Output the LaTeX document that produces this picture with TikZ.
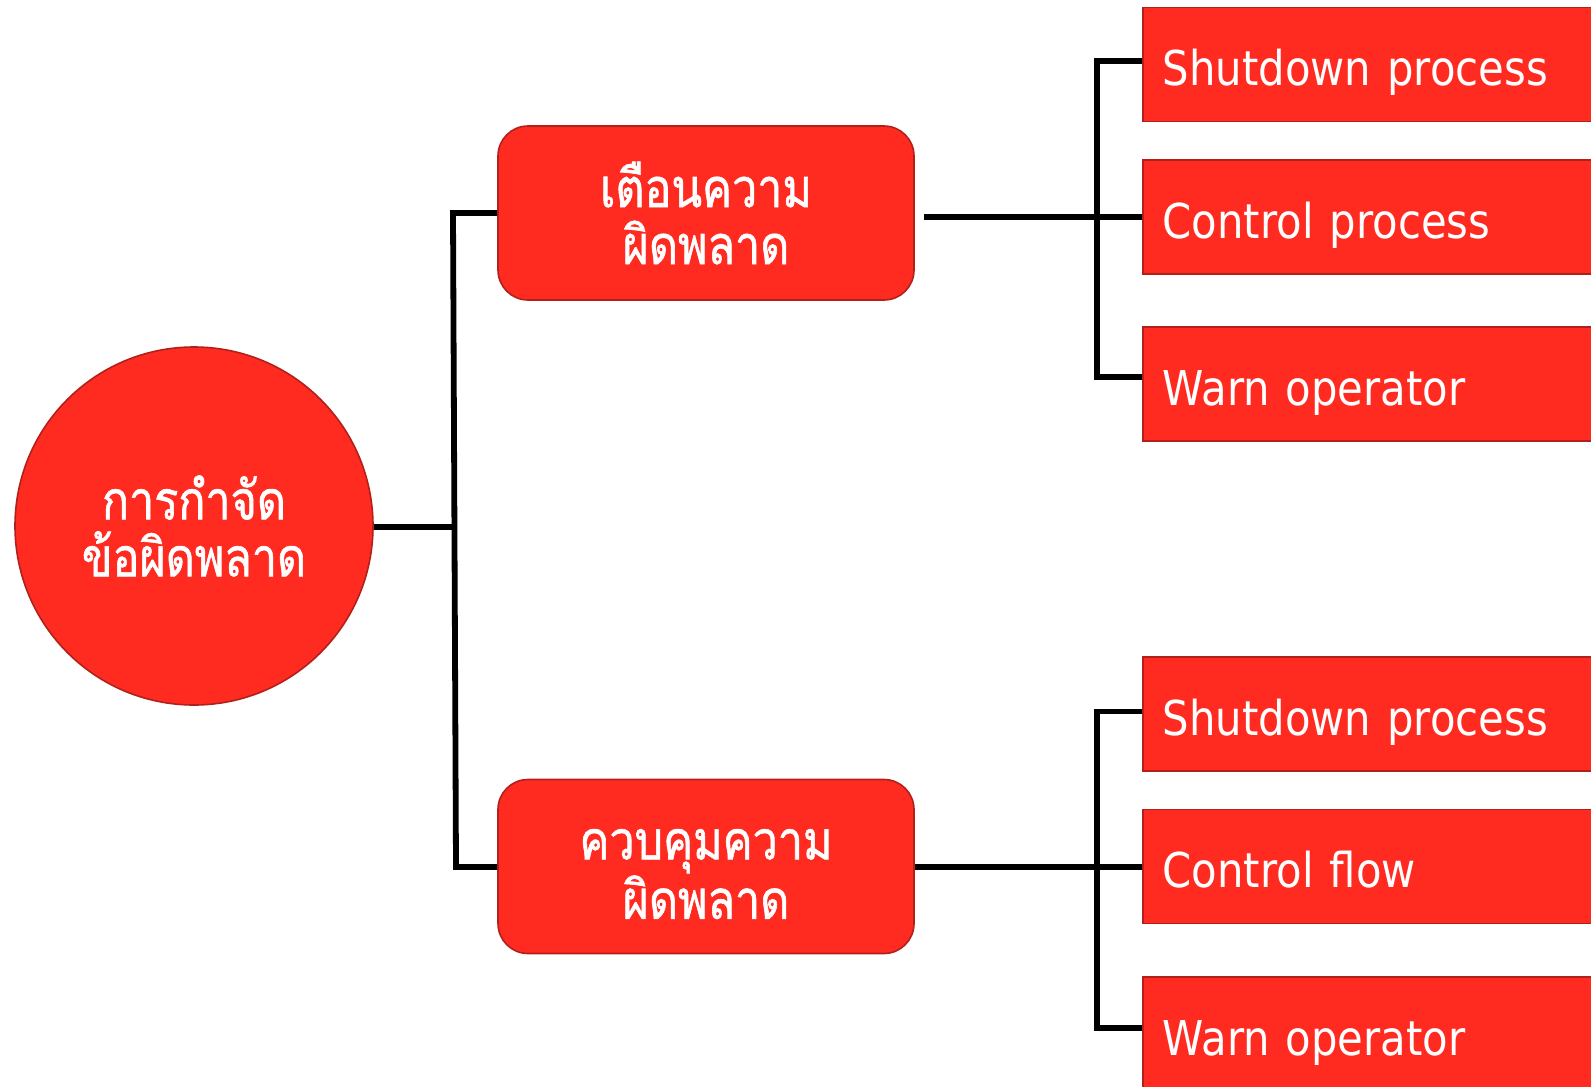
\documentclass[tikz,border=0pt]{standalone}
\usepackage{fontspec}
\setmainfont{DejaVu Sans}[FakeStretch=0.87]
\newfontfamily\thaifont[Script=Thai, FakeStretch=0.83, FakeBold=1.1]{Loma}
\usetikzlibrary{calc}

\definecolor{boxfill}{RGB}{255,43,33}
\definecolor{boxedge}{RGB}{178,32,28}

% keeps the first line of a two-line label at the same height in every box
\newcommand\thaistrut{\vphantom{ตื}}

\tikzset{
  wire/.style={line width=2.9pt, black},
  hub/.style={circle, fill=boxfill, draw=boxedge, line width=0.8pt,
    minimum size=179pt, inner sep=0pt, align=center, text=white,
    font=\thaifont\fontsize{27}{28.5}\selectfont},
  midbox/.style={rectangle, rounded corners=15pt, fill=boxfill, draw=boxedge,
    line width=0.8pt, minimum width=208pt, minimum height=87pt,
    inner sep=0pt, align=center, text=white,
    font=\thaifont\fontsize{27}{28.5}\selectfont},
  leafbox/.style={rectangle, fill=boxfill, draw=boxedge, line width=0.8pt,
    anchor=west, minimum height=57pt, text width=215pt, inner xsep=10pt,
    inner ysep=0pt, text height=21pt, text depth=0pt, align=left,
    text=white, font=\fontsize{24}{28}\selectfont},
}

\begin{document}
\begin{tikzpicture}[x=0.5pt, y=-0.5pt]
  \useasboundingbox (0,0) rectangle (1591,1087);
  \clip (0,0) rectangle (1591,1087);

  % root and the two branches
  \node[hub] (root) at (194,526) {การกำจัด\\ข้อผิดพลาด};
  \node[midbox] (warn) at (706,213) {\thaistrut เตือนความ\\ผิดพลาด};
  \node[midbox] (ctrl) at (706,866.5) {\thaistrut ควบคุมความ\\ผิดพลาด};

  % leaves of the upper branch
  \node[leafbox] (l1) at (1142,64.5) {Shutdown process};
  \node[leafbox] (l2) at (1142,217) {Control process};
  \node[leafbox] (l3) at (1142,384) {Warn operator};

  % leaves of the lower branch
  \node[leafbox] (l4) at (1142,714) {Shutdown process};
  \node[leafbox] (l5) at (1142,866.5) {Control flow};
  \node[leafbox] (l6) at (1142,1034) {Warn operator};

  % trunk joining root to both branches
  \coordinate (ttop) at (453,213);
  \coordinate (tmid) at (454.5,527);
  \coordinate (tbot) at (456,867);
  \draw[wire] (root.east |- tmid) -- (tmid);
  \draw[wire] (warn.west) -- (ttop) -- (tbot) -- (ctrl.west |- tbot);

  % upper bus
  \coordinate (wout) at (924,217);
  \coordinate (b1top) at (1097,61);
  \coordinate (b1bot) at (1097,377);
  \draw[wire] (wout) -- (l2.west);
  \draw[wire] (l1.west |- b1top) -- (b1top) -- (b1bot) -- (l3.west |- b1bot);

  % lower bus
  \coordinate (b2top) at (1097,711.5);
  \coordinate (b2bot) at (1097,1028);
  \draw[wire] (ctrl.east |- tbot) -- (l5.west |- tbot);
  \draw[wire] (l4.west |- b2top) -- (b2top) -- (b2bot) -- (l6.west |- b2bot);
\end{tikzpicture}
\end{document}
